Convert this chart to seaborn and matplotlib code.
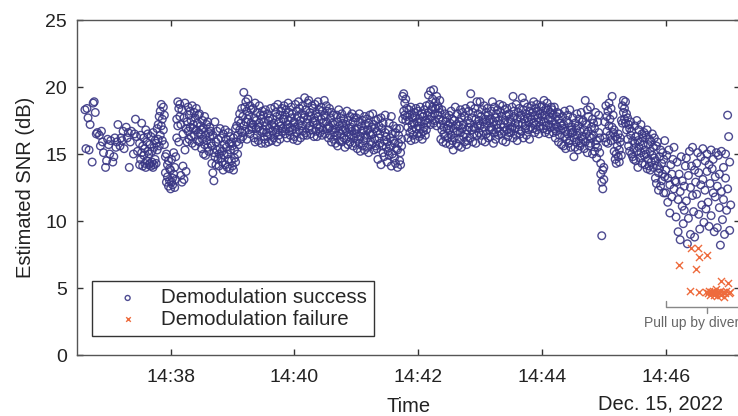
# SNR scatter: demodulation success / failure over time
import pandas as pd
import numpy as np
import matplotlib
matplotlib.use("Agg")
import matplotlib.pyplot as plt
import matplotlib.dates as mdates
import seaborn as sns

DAY = "2022-12-15 "

# Estimated SNR (dB) of successfully demodulated packets, one list per time window
snr_1436 = [18.3, 15.4, 18.4, 17.7, 15.3, 17.2, 14.4, 18.8, 18.9, 18.1, 16.5, 16.6, 16.4,
            15.6, 16.7, 15.9, 15.1, 14.0, 14.5, 16.1, 15.7, 15.0, 16.0, 14.4, 14.8, 16.2, 15.5,
            15.9, 17.2, 15.6, 16.2, 16.0, 16.7, 15.4, 17.0, 16.2, 16.6, 14.0, 15.9, 16.7, 15.0,
            16.5, 17.6, 16.3, 15.2]
snr_1437 = [15.8, 14.2, 16.4, 14.6, 15.1, 17.3, 14.1, 15.6, 14.9, 16.2, 14.3, 15.4, 16.8, 14.0, 15.9, 14.5, 15.2, 16.5, 14.2, 15.0,
            14.3, 15.7, 14.1, 16.3, 14.4, 15.2, 14.0, 16.6, 14.2, 15.5, 14.6, 16.0, 14.3, 15.8, 16.9, 15.3, 17.2, 16.1, 17.8, 15.6,
            16.4, 18.2, 17.1, 18.7, 16.0, 17.6, 18.5, 16.8, 17.9, 15.7, 14.8, 13.6, 15.0, 12.9, 14.2, 13.3, 12.6, 14.5, 13.0, 13.9]
snr_1438 = [12.4, 13.8, 12.9, 14.6, 13.2, 12.7, 15.1, 13.5, 12.5, 14.0, 13.1, 14.8, 17.6, 16.2, 18.9, 17.1, 18.4, 15.9, 17.8, 18.7,
            13.4, 17.2, 12.9, 18.3, 14.1, 16.5, 13.1, 17.7, 15.3, 18.8, 13.7, 16.9, 17.4, 15.9, 18.5, 16.7, 17.9, 16.1, 18.2, 17.0,
            17.5, 16.3, 18.6, 15.8, 17.2, 16.9, 18.1, 16.4, 17.7, 15.6, 18.4, 16.8, 17.3, 16.0, 17.9, 16.6, 18.0, 15.9, 17.1, 16.5,
            16.8, 15.4, 17.5, 16.1, 15.0, 16.9, 17.8, 15.7, 16.4, 14.9, 17.2, 16.0, 15.5, 17.4, 16.6, 15.2, 16.3, 17.0, 15.8, 16.7,
            15.6, 14.3, 13.6, 16.4, 15.1, 13.0, 17.4, 14.8, 15.9, 14.2, 16.7, 15.3, 14.6, 16.1, 15.0, 14.1, 16.9, 15.4, 14.7, 16.2,
            15.2, 14.4, 16.5, 13.8, 15.7, 14.9, 16.8, 14.2, 15.5, 16.1, 14.0, 15.0, 16.6, 14.6, 15.8, 13.9, 15.3, 16.3, 14.5, 15.9]
snr_1439 = [14.1, 15.6, 13.8, 16.2, 14.7, 15.3, 16.9, 14.4, 15.9, 17.1, 15.0, 16.4, 17.5, 15.7, 16.8, 18.0, 16.1, 17.3, 18.4, 16.6,
            17.8, 16.3, 19.6, 17.1, 18.5, 16.7, 18.9, 17.4, 16.1, 18.2, 17.6, 19.1, 16.8, 17.9, 18.6, 16.5, 17.3, 18.3, 17.0, 16.9,
            17.2, 18.4, 16.2, 17.7, 15.9, 18.8, 16.9, 17.5, 16.4, 18.1, 17.0, 16.0, 18.6, 17.3, 16.7, 17.9, 15.8, 17.6, 18.2, 16.6,
            16.8, 17.9, 16.1, 17.4, 15.8, 18.3, 16.6, 17.1, 16.3, 18.0, 17.5, 15.9, 16.9, 17.7, 16.4, 18.4, 17.2, 16.0, 17.6, 16.7,
            17.3, 16.2, 18.5, 17.0, 16.6, 18.1, 15.9, 17.8, 16.8, 18.7, 17.4, 16.4, 17.9, 16.1, 18.2, 17.1, 16.7, 18.4, 16.9, 17.6,
            17.6, 18.6, 16.5, 17.9, 16.9, 18.3, 17.2, 16.2, 18.8, 17.5, 16.7, 18.1, 17.0, 16.4, 18.5, 17.7, 16.8, 18.0, 17.3, 16.1]
snr_1440 = [17.4, 16.3, 18.7, 17.0, 16.6, 18.2, 17.8, 16.0, 18.9, 17.2, 16.8, 18.4, 17.5, 16.2, 18.0, 17.1, 16.7, 18.6, 17.7, 16.4,
            17.9, 19.2, 16.6, 18.3, 17.3, 16.4, 18.8, 17.6, 16.9, 19.0, 17.1, 18.1, 16.5, 17.8, 18.6, 16.8, 17.4, 18.4, 16.3, 17.7,
            17.5, 18.7, 16.7, 18.0, 17.2, 16.3, 18.9, 17.8, 16.9, 18.3, 17.0, 16.6, 18.5, 17.6, 16.4, 18.2, 17.3, 16.8, 19.0, 17.9,
            17.8, 16.5, 18.6, 17.4, 16.9, 18.2, 17.1, 16.2, 18.4, 17.0, 16.4, 17.7, 15.9, 18.1, 16.8, 17.3, 16.1, 17.9, 16.6, 17.2,
            16.9, 15.8, 17.9, 16.4, 17.4, 15.6, 18.3, 16.7, 17.1, 16.0, 17.7, 16.5, 15.9, 18.0, 16.8, 17.3, 16.2, 17.6, 15.5, 16.9,
            17.2, 16.1, 18.2, 16.6, 15.7, 17.5, 16.9, 16.3, 17.8, 15.9, 17.0, 16.4, 18.0, 16.7, 15.6, 17.4, 16.2, 17.7, 16.8, 15.8]
snr_1441 = [16.5, 17.7, 15.4, 16.9, 16.1, 17.4, 15.8, 18.0, 16.3, 15.2, 17.1, 16.7, 15.6, 17.5, 16.0, 16.8, 15.3, 17.8, 16.4, 17.2,
            16.2, 17.6, 15.5, 16.8, 17.3, 15.1, 16.6, 17.9, 15.9, 16.4, 17.0, 15.7, 18.0, 16.5, 15.3, 17.2, 16.1, 16.9, 15.6, 17.5,
            16.7, 15.4, 17.6, 14.6, 16.2, 17.1, 15.8, 16.5, 14.2, 17.7, 15.6, 16.9, 15.1, 17.3, 16.0, 14.8, 16.6, 17.9, 15.5, 16.3,
            15.9, 14.4, 16.8, 15.2, 17.3, 14.9, 16.2, 15.6, 17.8, 14.1, 16.5, 15.0, 16.0, 17.1, 14.7, 15.8, 16.6, 14.3, 15.4, 16.9,
            15.3, 14.0, 16.4, 15.8, 14.5, 16.9, 15.1, 14.2, 16.1, 15.6, 17.6, 19.3, 18.2, 19.5, 17.9, 18.8, 17.5, 19.1, 18.4, 17.8,
            17.0, 16.2, 18.3, 17.5, 16.6, 17.9, 16.0, 18.5, 17.2, 16.8, 17.7, 16.4, 18.1, 17.3, 16.1, 17.8, 16.9, 18.4, 16.5, 17.4]
snr_1442 = [17.1, 18.2, 16.3, 17.6, 16.9, 18.5, 16.5, 17.4, 18.0, 16.1, 17.8, 16.7, 18.3, 17.0, 16.4, 17.5, 18.6, 16.8, 17.3, 17.9,
            18.1, 19.4, 17.6, 18.7, 17.2, 19.7, 18.3, 17.8, 19.1, 18.5, 17.3, 19.8, 18.0, 17.5, 18.9, 18.4, 17.1, 19.3, 18.6, 17.9,
            18.4, 17.6, 19.0, 18.1, 17.2, 16.1, 18.3, 16.8, 17.5, 15.9, 17.0, 16.5, 18.0, 16.3, 17.4, 15.8, 16.9, 17.7, 16.2, 17.1,
            16.8, 17.9, 15.7, 17.3, 16.4, 18.2, 16.0, 17.6, 15.3, 16.9, 17.5, 16.2, 18.5, 16.6, 15.8, 17.2, 16.7, 18.0, 15.6, 17.1,
            17.4, 16.1, 18.3, 16.6, 15.5, 17.7, 16.9, 18.1, 16.3, 17.2, 15.9, 17.8, 16.5, 18.4, 16.8, 15.7, 17.5, 16.0, 17.0, 18.2,
            17.3, 16.2, 18.6, 19.5, 16.8, 17.7, 15.9, 18.1, 17.0, 16.5, 18.4, 16.9, 17.6, 15.8, 18.9, 16.4, 17.2, 18.0, 16.6, 17.5]
snr_1443 = [17.1, 18.9, 16.4, 17.8, 16.0, 18.3, 17.4, 16.7, 18.6, 17.0, 15.9, 17.6, 18.1, 16.5, 17.3, 18.4, 16.2, 17.9, 16.8, 17.5,
            17.6, 16.3, 18.2, 17.0, 16.8, 18.9, 17.4, 15.8, 18.5, 16.6, 17.7, 16.1, 18.0, 17.2, 16.9, 18.3, 16.4, 17.5, 18.7, 16.7,
            17.2, 18.1, 16.5, 17.8, 16.0, 18.6, 17.0, 16.7, 18.3, 17.5, 15.9, 17.9, 16.8, 18.4, 16.3, 17.3, 18.0, 16.6, 17.6, 16.9,
            17.4, 16.6, 18.5, 17.0, 19.3, 16.2, 17.8, 18.2, 16.9, 17.3, 18.7, 16.4, 17.6, 16.0, 18.1, 17.2, 16.8, 18.4, 17.7, 16.5,
            17.9, 16.7, 19.2, 17.3, 18.3, 16.2, 17.6, 18.8, 16.9, 17.1, 18.0, 16.4, 17.7, 18.5, 16.8, 17.4, 16.1, 18.2, 17.0, 17.8,
            17.6, 18.6, 16.9, 18.1, 17.3, 18.9, 16.6, 17.9, 18.4, 17.2, 16.8, 18.7, 17.7, 18.2, 16.5, 17.4, 18.0, 17.1, 18.5, 17.5]
snr_1444 = [17.8, 18.6, 16.9, 18.2, 17.4, 19.0, 16.6, 17.9, 18.4, 17.1, 18.8, 16.8, 17.6, 18.3, 17.2, 16.5, 18.1, 17.7, 18.5, 17.0,
            17.5, 18.3, 16.6, 17.9, 16.9, 18.5, 17.2, 16.2, 17.8, 16.7, 18.1, 17.0, 15.9, 17.6, 16.4, 18.0, 16.8, 17.3, 15.7, 17.1,
            16.9, 17.8, 15.6, 17.2, 16.3, 18.2, 16.7, 15.4, 17.5, 16.1, 17.9, 16.5, 15.8, 17.3, 16.0, 18.3, 16.8, 15.5, 17.0, 16.6,
            16.6, 17.7, 14.8, 16.2, 17.3, 15.5, 16.9, 15.9, 18.0, 16.4, 15.3, 17.1, 16.0, 17.6, 15.6, 16.7, 18.1, 15.8, 16.3, 17.4,
            16.1, 17.5, 15.4, 16.8, 19.0, 15.9, 17.2, 16.5, 18.3, 15.1, 16.7, 17.8, 15.6, 16.3, 18.5, 15.8, 17.0, 16.2, 15.0, 17.6,
            16.4, 17.3, 15.2, 16.9, 15.7, 18.1, 16.0, 14.7, 17.4, 15.5, 16.6, 17.9, 15.1, 16.2, 14.3, 13.5, 12.9, 8.9, 13.8, 12.4]
snr_1445 = [13.1, 14.0, 17.4, 16.2, 18.6, 15.9, 17.8, 16.7, 18.2, 15.8, 17.1, 18.8, 16.4, 17.6, 16.0, 18.4, 17.0, 19.3, 16.6, 17.9,
            16.8, 15.2, 14.6, 16.3, 15.0, 14.3, 16.1, 15.6, 14.8, 16.5, 15.3, 14.4, 15.9, 16.2, 14.9, 17.5, 18.6, 17.3, 19.0, 18.1,
            18.4, 17.6, 18.9, 17.3, 18.0, 16.8, 17.7, 16.1, 17.2, 15.6, 16.9, 15.2, 17.4, 16.4, 15.0, 16.7, 14.8, 16.0, 15.4, 14.6,
            15.8, 17.1, 14.5, 16.3, 15.2, 17.5, 14.0, 16.0, 15.5, 16.8, 14.7, 15.9, 17.2, 15.1, 16.5, 14.3, 15.7, 16.2, 14.9, 16.6,
            15.3, 14.2, 16.4, 15.0, 13.9, 16.8, 14.6, 15.7, 14.1, 16.1, 15.2, 13.8, 15.9, 14.4, 16.5, 14.9, 15.5, 14.0, 16.2, 14.7,
            14.5, 13.2, 15.6, 12.8, 14.1, 15.9, 13.6, 12.3, 14.8, 13.9, 15.3, 12.6, 14.3, 13.0, 15.1, 13.5, 12.1, 14.6, 13.3, 16.0]
snr_1446 = [13.8, 12.1, 14.9, 11.4, 13.2, 15.3, 12.7, 10.6, 14.2, 13.5, 11.8, 14.6, 12.4, 15.5, 13.0,
            12.9, 10.3, 14.4, 11.6, 9.2, 13.5, 12.2, 8.6, 14.8, 11.1, 13.0, 9.8, 12.6, 10.8, 14.1,
            11.5, 14.7, 8.3, 13.4, 10.2, 15.2, 12.5, 9.0, 14.1, 11.9, 15.5, 10.7, 13.8, 8.8, 12.9,
            14.3, 12.0, 15.1, 10.5, 13.6, 9.4, 14.8, 12.7, 11.2, 15.4, 13.1, 9.9, 14.5, 12.3, 10.9,
            13.7, 15.0, 11.4, 14.2, 9.6, 12.8, 15.3, 10.4, 13.9, 12.1, 14.6, 9.2, 11.8, 13.3, 15.1,
            12.6, 9.5, 14.9, 11.0, 13.5, 8.2, 15.2, 12.2, 10.1, 14.0, 11.6, 9.0, 13.2, 15.0, 10.8,
            17.9, 12.4, 16.3, 9.3, 14.4, 11.2]

# window (start, end) of each list above; samples are evenly spaced inside a window
windows = [
    (snr_1436, "14:36:37", "14:37:30"),
    (snr_1437, "14:37:30", "14:38:00"),
    (snr_1438, "14:38:00", "14:39:00"),
    (snr_1439, "14:39:00", "14:40:00"),
    (snr_1440, "14:40:00", "14:41:00"),
    (snr_1441, "14:41:00", "14:42:00"),
    (snr_1442, "14:42:00", "14:43:00"),
    (snr_1443, "14:43:00", "14:44:00"),
    (snr_1444, "14:44:00", "14:45:00"),
    (snr_1445, "14:45:00", "14:46:00"),
    (snr_1446, "14:46:00", "14:47:04"),
]

# demodulation failures: seconds after 14:46:00 and SNR
fail_sec = [12.9, 23.5, 24.2, 29.0, 31.5, 32.2, 32.6, 40.3, 39.5, 41.0, 42.2, 43.0, 44.1, 45.0,
            45.8, 46.7, 47.5, 48.3, 49.0, 49.8, 50.6, 51.4, 52.3, 53.2, 54.0, 55.1, 56.2, 57.4,
            58.5, 60.6, 61.3, 62.5]
fail_snr = [6.7, 4.75, 8.0, 6.4, 8.0, 7.3, 4.7, 7.5, 4.7, 4.6, 4.8, 4.5, 4.7, 4.6,
            4.8, 4.5, 4.7, 4.9, 4.6, 4.4, 4.7, 4.6, 4.8, 5.5, 4.5, 4.7, 4.3, 4.6,
            4.8, 5.35, 4.6, 4.7]

# ---- build tables ----
rows = []
for vals, t0, t1 in windows:
    a, b = pd.Timestamp(DAY + t0), pd.Timestamp(DAY + t1)
    frac = np.arange(len(vals)) / len(vals)
    for f, v in zip(frac, vals):
        rows.append((a + (b - a) * f, v))
ok = pd.DataFrame(rows, columns=["time", "snr"])

base = pd.Timestamp(DAY + "14:46:00")
bad = pd.DataFrame({"time": [base + pd.Timedelta(seconds=s) for s in fail_sec],
                    "snr": fail_snr})

sns.set_style("ticks")
plt.rcParams["font.family"] = ["Liberation Sans", "DejaVu Sans"]

fig = plt.figure(figsize=(7.38, 4.16), dpi=100)
ax = fig.add_axes([0.1039, 0.1466, 0.8988, 0.8053])

sns.scatterplot(data=ok, x="time", y="snr", marker="o", s=30, facecolors="none",
                edgecolor="#3a3785", linewidth=1.0, alpha=0.9,
                label="Demodulation success", ax=ax)
sns.scatterplot(data=bad, x="time", y="snr", marker="x", s=26, color="#ee6b3d",
                linewidth=1.0, label="Demodulation failure", ax=ax)

ax.set_xlim(pd.Timestamp(DAY + "14:36:29"), pd.Timestamp(DAY + "14:47:12"))
ax.set_ylim(0, 25)
ax.set_yticks([0, 5, 10, 15, 20, 25])
ax.xaxis.set_major_locator(mdates.MinuteLocator(byminute=range(0, 60, 2)))
ax.xaxis.set_major_formatter(mdates.DateFormatter("%H:%M"))

for sp in ax.spines.values():
    sp.set_visible(True)
    sp.set_color("#555555")
    sp.set_linewidth(1.0)
ax.tick_params(direction="in", top=True, right=True, length=4, width=1,
               color="#333333", labelsize=14, labelcolor="#222222")
ax.tick_params(axis="x", pad=10)
ax.tick_params(axis="y", pad=7)

ax.set_xlabel("Time", fontsize=14.5, color="#222222", labelpad=8)
ax.set_ylabel("Estimated SNR (dB)", fontsize=14.5, color="#222222")
ax.yaxis.set_label_coords(-0.063, 0.5)
fig.text(660 / 738, 1 - 410 / 416, "Dec. 15, 2022", ha="center", va="baseline",
         fontsize=14.5, color="#222222")

# bracket marking the pull-up
t_left = pd.Timestamp(DAY + "14:46:00")
t_mid = pd.Timestamp(DAY + "14:46:40")
t_right = pd.Timestamp(DAY + "14:47:20")
ax.plot([t_left, t_left, t_right], [4.0, 3.6, 3.6], color="#888888", lw=1, clip_on=False)
ax.plot([t_mid, t_mid], [3.6, 3.15], color="#888888", lw=1, clip_on=False)
ax.text(pd.Timestamp(DAY + "14:45:39"), 2.1, "Pull up by diver", fontsize=10,
        color="#666666", va="baseline", ha="left", clip_on=False)

leg = ax.legend(loc="lower left", bbox_to_anchor=(0.0226, 0.0567), borderaxespad=0,
                frameon=True, fancybox=False, edgecolor="#333333", framealpha=1,
                fontsize=14.8, handlelength=2.8, handletextpad=0.2, borderpad=0.35,
                labelspacing=0.12, markerscale=0.65)
leg.get_frame().set_linewidth(1.0)

fig.savefig("out.png", dpi=100)
